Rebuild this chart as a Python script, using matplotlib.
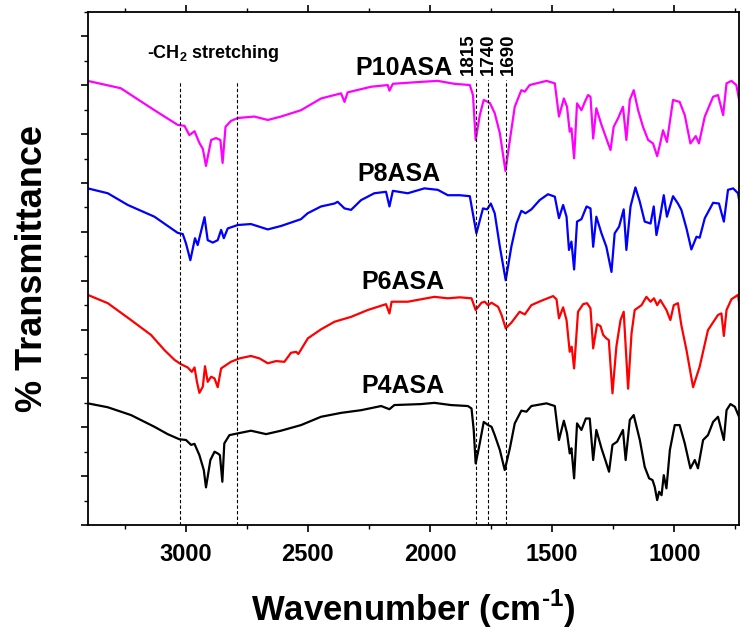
import matplotlib
matplotlib.use('Agg')
import matplotlib.pyplot as plt
from matplotlib.ticker import MultipleLocator, NullFormatter

# ---- spectra (wavenumber cm-1, transmittance a.u., offset per sample)
wn_p10 = [3401, 3266, 3128, 3033, 3005, 2985, 2964, 2944, 2930, 2917, 2896, 2876, 2858, 2849,
          2837, 2815, 2787, 2719, 2664, 2610, 2528, 2446, 2364, 2350, 2337, 2241, 2173, 2166,
          2152, 2037, 1968, 1900, 1837, 1824, 1813, 1796, 1780, 1755, 1735, 1714, 1691, 1673,
          1653, 1626, 1612, 1592, 1523, 1489, 1472, 1452, 1439, 1428, 1421, 1410, 1398, 1380,
          1366, 1353, 1343, 1332, 1319, 1298, 1278, 1261, 1248, 1230, 1210, 1196, 1182, 1166,
          1148, 1128, 1107, 1087, 1070, 1059, 1046, 1030, 1005, 978, 957, 934, 912, 899, 875,
          841, 821, 800, 786, 766, 746, 732]
t_p10 = [90.9, 89.4, 84.9, 81.9, 81.7, 79.8, 80.6, 78.2, 77.0, 73.5, 78.8, 79.2, 78.8, 74.1,
         81.5, 82.7, 83.3, 83.6, 82.9, 83.6, 84.9, 87.3, 88.35, 86.6, 88.55, 89.7, 90.05, 88.9,
         90.3, 90.7, 90.9, 90.3, 90.05, 88.0, 78.8, 83.9, 87.0, 86.4, 84.3, 80.2, 72.45, 78.8,
         85.6, 89.0, 88.7, 90.05, 90.9, 90.4, 83.6, 87.3, 85.6, 80.5, 81.2, 75.05, 86.3, 84.9,
         86.6, 88.0, 87.65, 79.1, 85.3, 81.9, 79.1, 76.75, 81.5, 83.25, 85.6, 78.8, 87.0, 89.0,
         84.9, 81.5, 78.8, 78.1, 75.5, 77.8, 80.8, 78.4, 87.0, 86.6, 83.9, 78.1, 79.6, 78.1, 83.6,
         87.65, 88.0, 83.9, 90.4, 90.9, 90.05, 86.4]

wn_p8 = [3401, 3319, 3237, 3128, 3033, 3012, 2999, 2981, 2962, 2951, 2923, 2910, 2889, 2869,
         2855, 2844, 2828, 2787, 2733, 2664, 2610, 2528, 2501, 2446, 2391, 2378, 2350, 2323,
         2282, 2228, 2180, 2166, 2152, 2091, 2023, 1968, 1927, 1878, 1837, 1810, 1783, 1766,
         1751, 1735, 1714, 1690, 1667, 1646, 1626, 1609, 1585, 1551, 1517, 1489, 1472, 1455,
         1441, 1431, 1421, 1410, 1398, 1380, 1359, 1343, 1332, 1319, 1298, 1278, 1257, 1244,
         1226, 1207, 1196, 1179, 1159, 1141, 1121, 1097, 1084, 1073, 1059, 1043, 1030, 1005,
         985, 971, 950, 930, 909, 896, 875, 841, 817, 797, 780, 759, 739, 732]
t_p8 = [68.9, 67.9, 65.5, 63.1, 59.8, 59.55, 57.65, 54.2, 58.7, 57.3, 63.0, 58.3, 57.8, 58.3,
        60.4, 58.7, 60.7, 61.4, 61.6, 60.5, 61.2, 62.6, 63.8, 65.2, 65.8, 66.15, 64.8, 64.5,
        66.5, 67.9, 68.2, 65.2, 68.4, 67.9, 68.9, 68.6, 67.5, 67.5, 67.3, 59.7, 64.8, 64.6,
        65.8, 63.8, 56.95, 50.1, 56.95, 61.7, 64.3, 63.8, 64.6, 66.5, 67.7, 67.2, 62.8, 65.5,
        63.1, 56.3, 58.0, 52.3, 62.1, 62.6, 65.2, 64.8, 56.95, 63.1, 59.7, 56.95, 51.8, 59.7,
        61.05, 64.6, 56.3, 65.2, 69.1, 66.15, 62.1, 61.7, 65.2, 59.35, 62.8, 67.5, 63.1, 67.3,
        65.8, 64.5, 60.7, 56.4, 59.0, 58.8, 62.8, 65.95, 65.8, 62.1, 68.6, 68.9, 67.9, 65.8]

wn_p6 = [3401, 3319, 3224, 3142, 3087, 3046, 3019, 2992, 2975, 2964, 2954, 2944, 2930, 2921,
         2910, 2896, 2882, 2869, 2855, 2815, 2780, 2733, 2698, 2664, 2630, 2596, 2569, 2548,
         2539, 2500, 2446, 2391, 2323, 2255, 2180, 2166, 2157, 2091, 1982, 1927, 1878, 1830,
         1813, 1789, 1776, 1762, 1748, 1721, 1707, 1690, 1667, 1633, 1612, 1585, 1544, 1496,
         1482, 1472, 1455, 1441, 1428, 1420, 1410, 1394, 1373, 1357, 1343, 1332, 1316, 1302,
         1291, 1278, 1268, 1253, 1237, 1220, 1207, 1189, 1175, 1162, 1134, 1114, 1097, 1083,
         1070, 1057, 1032, 1016, 1002, 985, 971, 950, 923, 896, 862, 821, 807, 797, 786, 766,
         739, 732]
t_p6 = [47.1, 45.4, 41.95, 38.9, 35.8, 33.8, 32.9, 32.25, 31.35, 32.25, 29.3, 27.05, 28.3, 32.5,
        29.3, 30.35, 30.0, 28.2, 32.05, 33.4, 34.1, 34.6, 34.1, 33.1, 33.55, 33.4, 35.25, 35.45,
        35.0, 38.2, 40.05, 41.6, 42.6, 44.0, 45.2, 43.3, 45.7, 45.7, 46.7, 46.4, 46.6, 46.4,
        44.0, 45.5, 45.7, 45.0, 45.5, 44.65, 43.0, 40.25, 41.4, 43.65, 43.1, 45.0, 45.9, 46.85,
        46.2, 42.3, 44.55, 41.95, 35.45, 36.5, 32.05, 43.65, 45.2, 45.4, 44.35, 36.15, 41.1, 40.7,
        38.9, 38.2, 37.85, 26.95, 36.5, 41.95, 43.65, 27.9, 39.2, 44.0, 45.0, 46.7, 45.7, 46.4,
        45.0, 46.05, 44.0, 41.95, 45.0, 45.4, 40.9, 35.8, 28.2, 32.4, 39.9, 43.0, 43.3, 38.7, 44.0, 46.2,
        47.1, 44.65]

wn_p4 = [3401, 3319, 3224, 3128, 3074, 3026, 2999, 2978, 2964, 2944, 2926, 2917, 2899, 2882,
         2869, 2860, 2850, 2842, 2821, 2787, 2733, 2671, 2610, 2528, 2446, 2364, 2282, 2200,
         2166, 2146, 2037, 1982, 1914, 1845, 1830, 1821, 1813, 1799, 1780, 1762, 1748, 1735,
         1714, 1694, 1673, 1653, 1626, 1605, 1585, 1523, 1489, 1472, 1452, 1439, 1428, 1421,
         1410, 1398, 1380, 1362, 1346, 1332, 1319, 1298, 1280, 1267, 1253, 1234, 1210, 1199,
         1182, 1166, 1141, 1121, 1103, 1089, 1080, 1070, 1062, 1052, 1043, 1032, 1018, 998, 978,
         957, 934, 916, 903, 882, 862, 841, 821, 797, 786, 770, 752, 732]
t_p4 = [24.9, 24.1, 22.5, 20.1, 18.6, 17.55, 17.4, 16.4, 16.6, 14.3, 11.25, 7.7, 13.3, 15.0,
        14.65, 14.3, 8.85, 16.7, 18.4, 18.75, 19.3, 18.6, 19.3, 20.45, 22.15, 22.95, 23.5, 24.35,
        23.7, 24.55, 24.75, 25.0, 24.55, 24.35, 23.85, 19.45, 12.6, 16.0, 21.1, 20.45, 20.1, 18.4,
        15.35, 11.25, 15.7, 20.8, 23.4, 23.2, 24.35, 24.9, 24.35, 17.4, 21.35, 18.75, 14.65, 15.7,
        9.55, 20.8, 19.45, 21.8, 21.8, 13.3, 19.45, 15.7, 12.95, 10.9, 16.4, 17.05, 19.45, 13.3,
        21.5, 22.5, 17.4, 11.9, 9.55, 9.2, 7.8, 5.1, 6.8, 6.1, 10.2, 7.5, 15.35, 20.45, 20.45,
        16.7, 11.6, 13.3, 11.6, 17.4, 18.4, 21.1, 22.15, 17.4, 23.5, 24.75, 24.2, 21.8]

names = ['P10ASA', 'P8ASA', 'P6ASA', 'P4ASA']
colors = ['#ff00ff', '#0000ff', '#ff0000', '#000000']
label_wn = [2307, 2299, 2279, 2279]
label_t = [93.5, 71.8, 49.7, 28.4]

ch2_lines = [3025, 2790]
co_lines = [1812, 1761, 1690]
co_text = ['1815', '1740', '1690']
co_text_wn = [1844, 1762, 1680]

plt.rcParams['font.family'] = 'Liberation Sans'
plt.rcParams['font.weight'] = 'bold'
plt.rcParams['mathtext.fontset'] = 'custom'
plt.rcParams['mathtext.rm'] = 'Liberation Sans:bold'
plt.rcParams['mathtext.bf'] = 'Liberation Sans:bold'

fig = plt.figure(figsize=(7.4, 6.3), dpi=100)
ax = fig.add_axes([88/740, 105/630, 651/740, 513/630])

series = [(wn_p10, t_p10), (wn_p8, t_p8), (wn_p6, t_p6), (wn_p4, t_p4)]
for (x, y), c in zip(series, colors):
    ax.plot(x, y, color=c, lw=1.6)

for n, xw, yt in zip(names, label_wn, label_t):
    ax.text(xw, yt, n, fontsize=18, fontweight='bold', ha='left', va='center')

# dashed guide lines
ax.vlines(ch2_lines, 0, 90.6, colors='k', lw=0.8, linestyles=(0, (3, 2)))
ax.vlines(co_lines, 0, 91.0, colors='k', lw=0.8, linestyles=(0, (3, 2)))
for xw, s in zip(co_text_wn, co_text):
    ax.text(xw, 92.1, s, rotation=90, ha='center', va='bottom', fontsize=13.5,
            fontweight='bold', linespacing=1.0)
ax.text(2889, 96.5, r'-CH$_\mathbf{2}$ stretching', ha='center', va='center', fontsize=13)

ax.set_xlim(3400, 735)
ax.set_ylim(0, 105)
ax.xaxis.set_major_locator(MultipleLocator(500))
ax.xaxis.set_minor_locator(MultipleLocator(250))
ax.yaxis.set_major_locator(MultipleLocator(10))
ax.yaxis.set_minor_locator(MultipleLocator(5))
ax.yaxis.set_major_formatter(NullFormatter())
ax.tick_params(axis='both', which='major', direction='out', length=5, width=1.2,
               top=True, labelsize=17, pad=8)
ax.tick_params(axis='both', which='minor', direction='out', length=3, width=1.0, top=True)
for sp in ax.spines.values():
    sp.set_linewidth(1.3)

ax.set_xlabel(r'Wavenumber (cm$^{\text{-1}}$)', fontsize=25, fontweight='bold', labelpad=16)
ax.set_ylabel('% Transmittance', fontsize=26, fontweight='bold', labelpad=14)

fig.savefig('out.png', dpi=100)
